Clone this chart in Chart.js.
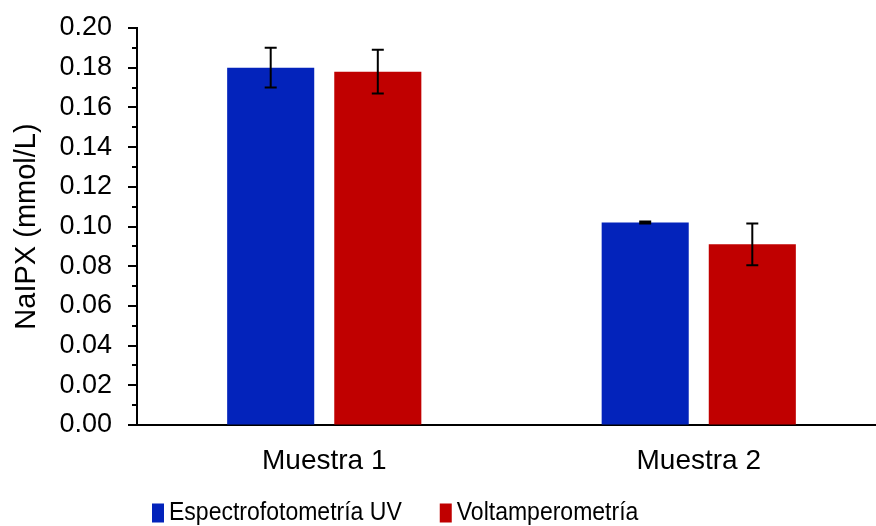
<!DOCTYPE html>
<html>
<head>
<meta charset="utf-8">
<script src="https://cdn.jsdelivr.net/npm/chart.js@4/dist/chart.umd.min.js"></script>
<style>
  html, body { margin: 0; padding: 0; background: #fff; overflow: hidden; }
  #wrap { width: 876px; height: 526px; overflow: hidden; }
</style>
</head>
<body>
<div id="wrap"><canvas id="c" width="886" height="526"></canvas></div>
<script>
// Sample names and analytical methods
const categories = ['Muestra 1', 'Muestra 2'];
const seriesNames = ['Espectrofotometría UV', 'Voltamperometría'];

// NaIPX concentration (mmol/L) and standard deviation per method
const uvValues = [0.180, 0.102];
const uvErrors = [0.010, 0.0005];
const voltValues = [0.178, 0.091];
const voltErrors = [0.011, 0.0105];

// Y axis labels, one per major tick
const yTickLabels = ['0.00', '0.02', '0.04', '0.06', '0.08', '0.10', '0.12', '0.14', '0.16', '0.18', '0.20'];

const colors = ['#0323BB', '#C00000'];
const FONT = "'Liberation Sans', Arial, sans-serif";

Chart.defaults.font.family = FONT;
Chart.defaults.color = '#000';

// Error bars drawn through the value scale
const errorBars = {
  id: 'errorBars',
  afterDatasetsDraw(chart) {
    const ctx = chart.ctx;
    const y = chart.scales.y;
    ctx.save();
    ctx.strokeStyle = '#000';
    ctx.lineWidth = 2;
    chart.data.datasets.forEach((ds, i) => {
      const meta = chart.getDatasetMeta(i);
      meta.data.forEach((bar, j) => {
        const v = ds.data[j], e = ds.errors[j];
        const top = y.getPixelForValue(v + e);
        const bot = y.getPixelForValue(v - e);
        const cap = 6;
        ctx.beginPath();
        ctx.moveTo(bar.x, top); ctx.lineTo(bar.x, bot);
        ctx.moveTo(bar.x - cap, top); ctx.lineTo(bar.x + cap, top);
        ctx.moveTo(bar.x - cap, bot); ctx.lineTo(bar.x + cap, bot);
        ctx.stroke();
      });
    });
    ctx.restore();
  }
};

// Outward tick marks on the value axis: long at labelled ticks, short halfway between
const axisTicks = {
  id: 'axisTicks',
  afterDraw(chart) {
    const y = chart.scales.y;
    const ctx = chart.ctx;
    const x0 = chart.chartArea.left;
    ctx.save();
    ctx.strokeStyle = '#000';
    ctx.lineWidth = 2;
    const mark = (value, len) => {
      const py = Math.round(y.getPixelForValue(value));
      ctx.beginPath();
      ctx.moveTo(x0 - len, py); ctx.lineTo(x0, py);
      ctx.stroke();
    };
    y.ticks.forEach((t, i) => {
      mark(t.value, 9);
      if (i < y.ticks.length - 1) mark((t.value + y.ticks[i + 1].value) / 2, 5);
    });
    ctx.restore();
  }
};

// Legend row under the category labels (narrow-set text, tall swatches)
const bottomLegend = {
  id: 'bottomLegend',
  afterDraw(chart) {
    const ctx = chart.ctx;
    const squeeze = 0.885;
    ctx.save();
    ctx.font = '26px ' + FONT;
    ctx.textBaseline = 'middle';
    let x = 152;
    const cy = 513;
    const boxW = 12, boxH = 19;
    chart.data.datasets.forEach((ds) => {
      ctx.fillStyle = ds.backgroundColor;
      ctx.fillRect(x, cy - boxH / 2, boxW, boxH);
      x += boxW + 5;
      ctx.fillStyle = '#000';
      ctx.save();
      ctx.translate(x, cy);
      ctx.scale(squeeze, 1);
      ctx.fillText(ds.label, 0, 0);
      ctx.restore();
      x += ctx.measureText(ds.label).width * squeeze + 38;
    });
    ctx.restore();
  }
};

new Chart(document.getElementById('c'), {
  type: 'bar',
  data: {
    labels: categories,
    datasets: [
      { label: seriesNames[0], data: uvValues, errors: uvErrors, backgroundColor: colors[0] },
      { label: seriesNames[1], data: voltValues, errors: voltErrors, backgroundColor: colors[1] }
    ]
  },
  options: {
    responsive: false,
    devicePixelRatio: 1,
    animation: false,
    categoryPercentage: 0.572,
    barPercentage: 0.813,
    layout: { padding: { left: 0, right: 0, top: 28, bottom: 0 } },
    plugins: {
      legend: { display: false },
      tooltip: { enabled: false }
    },
    scales: {
      x: {
        grid: { display: false, drawTicks: false },
        border: { color: '#000', width: 2 },
        ticks: { font: { size: 28 }, padding: 19, color: '#000', maxRotation: 0 },
        afterFit(s) { s.height = 101; }
      },
      y: {
        min: 0,
        max: 0.2,
        ticks: {
          stepSize: 0.02,
          font: { size: 27 },
          padding: 0,
          color: '#000',
          callback: (v, i) => yTickLabels[i]
        },
        grid: { drawOnChartArea: false, tickLength: 25, color: 'rgba(0,0,0,0)' },
        border: { color: '#000', width: 2 },
        title: { display: true, text: 'NaIPX (mmol/L)', font: { size: 29 }, color: '#000', padding: { top: 10, bottom: 0 } },
        afterFit(s) { s.width = 137; }
      }
    }
  },
  plugins: [errorBars, axisTicks, bottomLegend]
});
</script>
</body>
</html>
